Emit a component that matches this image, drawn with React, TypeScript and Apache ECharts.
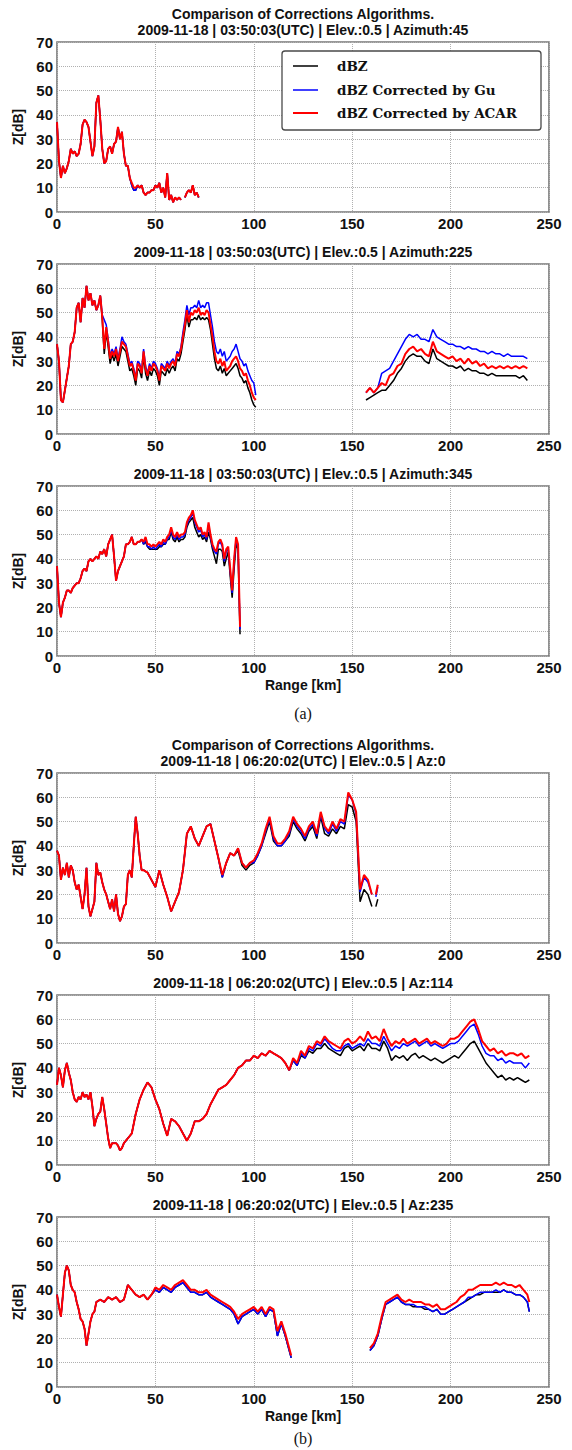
import React, { useEffect, useRef } from "react";
import * as echarts from "echarts";

// ---------------- DATA ----------------
// Panel (a)1: Azimuth 45
const az45Range = [0,1,2,3,4,5,6,7,8,9,10,11,12,13,14,15,16,17,18,19,20,21,22,23,24,25,26,27,28,29,30,31,32,33,34,35,36,37,38,39,40,41,42,43,44,45,46,47,48,49,50,51,52,53,54,55,56,57,58,59,60,61,62,63,64,65,66,67,68,69,70,71,72];
const az45Acar = [37,21,14,19,16,18,21,26,24,25,23,24,28,36,38,37,35,29,23,27,45,48,38,26,20,21,26,27,24,28,29,35,30,33,24,19,19,14,12,10,10,11,10,11,8,7,8,8,9,9,11,10,12,8,10,6,16,5,7,4,6,5,6,5,null,6,8,9,8,11,7,8,6];
const az45Gu = [37,21,14,19,16,18,21,26,24,25,23,24,28,36,38,37,35,29,23,27,45,48,38,26,20,21,26,27,24,28,29,35,30,33,24,19,19,14,11,9,9,11,10,11,8,7,8,8,9,9,11,10,12,8,10,6,16,5,7,4,6,5,6,5,null,6,8,9,8,11,7,8,6];
const az45Dbz = [37,21,14,19,16,18,21,26,24,25,23,24,28,36,38,37,35,29,23,27,45,48,38,26,20,21,26,27,24,28,29,35,30,33,24,19,19,14,11,9,9,11,10,11,8,7,8,8,9,9,11,10,12,8,10,6,16,5,7,4,6,5,6,5,null,6,8,9,8,11,7,8,6];

// Panel (a)2: Azimuth 225
const az225Range = [0,1,2,3,4,5,6,7,8,9,10,11,12,13,14,15,16,17,18,19,20,21,22,23,24,25,26,27,28,29,30,31,32,33,34,35,36,37,38,39,40,41,42,43,44,45,46,47,48,49,50,51,52,53,54,55,56,57,58,59,60,61,62,63,64,65,66,67,68,69,70,71,72,73,74,75,76,77,78,79,80,81,82,83,84,85,86,87,88,89,90,91,92,93,94,95,96,97,98,99,100,101,129,157,159,161,163,165,167,169,171,173,175,177,179,181,183,185,187,189,191,193,195,197,199,201,203,205,207,209,211,213,215,217,219,221,223,225,227,229,231,233,235,237,239];
const az225Acar = [37,30,14,13,18,23,28,37,38,42,52,54,46,56,52,61,55,58,53,55,51,53,57,48,35,44,38,31,34,32,35,30,34,38,37,36,32,28,29,26,22,29,28,25,34,27,24,28,26,29,28,26,22,28,27,26,29,27,29,30,28,33,32,35,40,45,51,46,50,49,51,50,52,49,50,49,51,50,45,40,34,30,29,31,28,30,26,27,28,30,31,32,30,27,26,24,25,22,20,17,15,14,null,17,19,17,19,21,20,24,25,28,29,33,35,36,34,35,33,32,38,34,33,32,31,32,30,31,29,31,29,30,28,29,27,28,27,28,27,28,27,28,27,28,27];
const az225Gu = [37,30,14,13,18,23,28,37,38,42,52,54,46,56,52,61,55,58,53,55,51,53,57,49,47,45,39,32,35,33,36,31,35,40,38,37,33,29,30,27,23,30,29,26,35,28,25,29,27,30,29,27,23,29,28,27,30,28,30,31,29,34,33,36,42,47,53,49,52,52,53,52,55,52,53,52,54,54,49,44,38,34,33,35,32,34,30,31,32,34,35,37,34,31,30,28,29,26,24,22,21,16,null,17,19,17,19,25,26,27,30,33,36,39,41,40,41,39,39,38,43,40,39,38,37,37,36,36,35,36,35,35,34,34,33,34,33,33,32,33,32,32,32,32,31];
const az225Dbz = [37,30,14,13,18,23,28,37,38,42,52,54,46,56,52,61,55,58,53,55,51,53,57,47,33,42,36,29,33,30,33,28,32,36,35,34,30,26,27,24,20,27,26,23,32,25,22,26,24,27,26,24,20,26,25,24,27,25,27,28,26,31,30,33,38,43,49,44,47,47,48,47,49,47,48,47,48,47,43,37,31,27,26,28,25,27,24,25,26,27,28,29,27,24,23,21,22,19,17,14,12,11,null,14,15,16,17,18,18,20,22,25,27,30,32,33,32,32,30,29,35,31,30,29,28,28,27,28,26,27,26,26,25,25,24,25,24,24,24,24,24,24,23,24,22];

// Panel (a)3: Azimuth 345
const az345Range = [0,1,2,3,4,5,6,7,8,9,10,11,12,13,14,15,16,17,18,19,20,21,22,23,24,25,26,27,28,29,30,31,32,33,34,35,36,37,38,39,40,41,42,43,44,45,46,47,48,49,50,51,52,53,54,55,56,57,58,59,60,61,62,63,64,65,66,67,68,69,70,71,72,73,74,75,76,77,78,79,80,81,82,83,84,85,86,87,88,89,90,91,92,93];
const az345Acar = [37,22,16,22,24,27,27,26,28,29,30,30,32,35,36,35,39,40,39,40,41,40,43,42,44,41,46,48,50,41,31,35,37,39,41,46,46,47,49,46,46,47,47,48,47,49,46,46,45,46,45,46,47,46,48,47,49,50,53,50,49,51,49,50,50,51,55,57,58,60,56,54,52,53,50,51,49,55,50,46,44,43,47,48,46,40,44,45,36,27,40,49,46,12];
const az345Gu = [37,22,16,22,24,27,27,26,28,29,30,30,32,35,36,35,39,40,39,40,41,40,43,42,44,41,46,48,50,41,31,35,37,39,41,46,46,47,49,46,46,47,47,48,46,48,45,45,44,45,44,45,46,45,47,46,48,49,52,49,48,50,48,49,49,50,54,56,57,59,55,53,51,52,49,50,48,54,49,45,43,42,46,47,45,39,43,44,35,26,39,48,45,11];
const az345Dbz = [37,22,16,22,24,27,27,26,28,29,30,30,32,35,36,35,39,40,39,40,41,40,43,42,44,41,46,48,50,41,31,35,37,39,41,46,46,47,49,46,46,47,47,48,46,47,45,44,44,44,44,44,45,45,46,46,48,48,51,48,47,49,47,48,48,49,53,55,56,57,53,51,49,50,48,49,47,51,48,44,41,38,44,44,43,37,40,43,33,24,36,46,44,9];

// Panel (b)1: Az 0
const az0Range = [0,1,2,3,4,5,6,7,8,9,10,11,12,13,14,15,16,17,18,19,20,21,22,23,24,25,26,27,28,29,30,31,32,33,34,35,36,37,38,39,40,41,42,43,44,46,48,50,52,54,56,58,60,62,64,66,68,70,72,74,76,78,80,82,84,86,88,90,92,94,96,98,100,102,104,106,108,110,112,114,116,118,120,122,124,126,128,130,132,134,136,138,140,142,144,146,148,150,152,154,156,158,160,161,162,163];
const az0Acar = [38,36,26,31,28,33,27,32,30,25,22,24,19,14,20,31,15,11,14,17,33,28,29,25,22,20,17,14,18,13,20,12,9,11,15,16,28,30,27,40,52,45,36,30,30,29,26,23,30,24,19,13,17,21,30,45,48,43,40,44,48,49,42,35,28,33,37,36,39,33,31,33,34,37,41,47,52,44,41,41,43,46,52,49,47,44,48,50,45,54,48,46,50,47,51,50,62,59,54,22,28,26,20,null,20,24];
const az0Gu = [38,36,26,31,28,33,27,32,30,25,22,24,19,14,20,31,15,11,14,17,33,28,29,25,22,20,17,14,18,13,20,12,9,11,15,16,28,30,27,40,52,45,36,30,30,29,26,23,30,24,19,13,17,21,30,45,48,43,40,44,48,49,42,35,27,33,37,36,39,33,31,33,33,36,40,46,51,43,40,40,42,45,51,48,46,43,47,49,44,53,47,45,49,46,50,49,61,59,53,21,27,25,20,null,19,23];
const az0Dbz = [38,36,26,31,28,33,27,32,30,25,22,24,19,14,20,31,15,11,14,17,33,28,29,25,22,20,17,14,18,13,20,12,9,11,15,16,28,30,27,40,52,45,36,30,30,29,26,23,30,24,19,13,17,21,30,45,48,43,40,44,48,49,42,35,27,33,37,36,38,32,30,32,33,36,40,45,50,42,40,40,42,44,50,47,45,42,46,48,43,52,45,44,47,45,48,47,57,56,50,17,22,20,15,null,15,18];

// Panel (b)2: Az 114
const az114Range = [0,1,2,3,4,5,6,7,8,9,10,11,12,13,14,15,16,17,18,19,20,21,22,23,24,25,26,27,28,29,30,31,32,33,34,35,36,37,38,39,40,42,44,46,48,50,52,54,56,58,60,62,64,66,68,70,72,74,76,78,80,82,84,86,88,90,92,94,96,98,100,102,104,106,108,110,112,114,116,118,120,122,124,126,128,130,132,134,136,138,140,142,144,146,148,150,152,154,156,158,160,162,164,166,168,170,172,174,176,178,180,182,184,186,188,190,192,194,196,198,200,202,204,206,208,210,212,214,216,218,220,222,224,226,228,230,232,234,236,238,240];
const az114Acar = [33,40,37,32,39,42,38,35,30,27,26,28,27,30,28,29,27,30,24,16,19,21,22,28,23,17,11,7,9,9,9,8,6,7,9,10,11,12,13,17,21,27,31,34,32,27,23,17,12,19,18,16,13,10,13,18,18,19,21,25,28,31,32,33,35,37,40,41,43,43,45,44,46,45,47,46,45,44,42,39,44,42,47,45,49,48,51,50,53,51,50,49,48,51,52,50,51,53,51,55,52,53,51,56,52,49,51,50,52,50,51,52,50,51,52,50,51,50,49,50,52,52,53,55,57,59,60,56,51,49,47,48,46,47,45,46,46,45,46,44,45];
const az114Gu = [33,40,37,32,39,42,38,35,30,27,26,28,27,30,28,29,27,30,24,16,19,21,22,28,23,17,11,7,9,9,9,8,6,7,9,10,11,12,13,17,21,27,31,34,32,27,23,17,12,19,18,16,13,10,13,18,18,19,21,25,28,31,32,33,35,37,40,41,43,43,45,44,46,45,47,46,45,44,42,39,43,41,46,44,48,47,50,49,52,50,48,47,47,49,50,48,49,50,49,52,50,50,49,53,50,47,49,48,50,49,50,51,49,50,51,49,50,49,48,49,50,50,51,53,55,57,58,54,49,46,45,45,43,44,42,43,42,42,42,40,42];
const az114Dbz = [33,40,37,32,39,42,38,35,30,27,26,28,27,30,28,29,27,30,24,16,19,21,22,28,23,17,11,7,9,9,9,8,6,7,9,10,11,12,13,17,21,27,31,34,32,27,23,17,12,19,18,16,13,10,13,18,18,19,21,25,28,31,32,33,35,37,40,41,43,43,45,44,46,45,47,46,45,44,42,39,43,41,45,44,47,46,48,48,50,48,47,46,45,48,49,47,48,49,47,50,48,48,47,51,48,43,45,44,45,43,45,46,44,45,44,43,44,43,42,43,44,45,44,46,48,50,51,48,45,42,40,38,36,37,35,36,35,36,35,34,35];

// Panel (b)3: Az 235
const az235Range = [0,1,2,3,4,5,6,7,8,9,10,11,12,13,14,15,16,17,18,19,20,22,24,26,28,30,32,34,36,38,40,42,44,46,48,50,52,54,56,58,60,62,64,66,68,70,72,74,76,78,80,82,84,86,88,90,92,94,96,98,100,102,104,106,108,110,112,114,116,118,119,140,159,161,163,165,167,169,171,173,175,177,179,181,183,185,187,189,191,193,195,197,199,201,203,205,207,209,211,213,215,217,219,221,223,225,227,229,231,233,235,237,239,240];
const az235Acar = [38,33,29,38,47,50,48,42,40,39,35,32,28,27,24,17,22,27,30,31,35,36,35,37,36,37,35,36,42,40,38,37,38,36,38,41,40,42,41,40,42,43,44,42,40,40,39,39,40,38,37,36,35,34,33,31,28,30,31,32,33,31,33,30,33,32,23,27,22,16,13,null,16,18,22,29,35,36,37,38,36,35,36,35,35,35,34,34,33,34,32,32,33,34,35,37,38,40,40,41,42,42,42,42,43,42,43,42,42,41,42,40,38,35];
const az235Gu = [38,33,29,38,47,50,48,42,40,39,35,32,28,27,24,17,22,27,30,31,35,36,35,37,36,37,35,36,42,40,38,37,38,36,38,40,39,41,40,39,41,42,43,41,39,39,38,38,39,37,36,35,34,33,32,30,26,29,30,31,32,30,32,29,32,31,21,26,21,15,12,null,15,17,21,28,34,35,36,37,35,34,34,34,33,33,33,32,31,32,30,30,31,32,33,34,35,37,37,38,39,39,39,39,40,39,40,39,39,38,38,37,35,31];
const az235Dbz = [38,33,29,38,47,50,48,42,40,39,35,32,28,27,24,17,22,27,30,31,35,36,35,37,36,37,35,36,42,40,38,37,38,36,38,40,39,41,40,39,41,42,43,41,39,39,38,38,39,37,36,35,34,33,32,30,26,29,30,31,32,30,32,29,32,31,21,26,21,15,12,null,15,17,21,28,34,35,36,37,35,34,34,33,33,33,32,32,31,32,30,30,31,32,33,34,35,36,37,38,38,39,39,39,39,39,40,39,39,38,38,37,35,31];

const xTicks = [0, 50, 100, 150, 200, 250];
const yTicks = [0, 10, 20, 30, 40, 50, 60, 70];
const seriesNames = ["dBZ", "dBZ Corrected by Gu", "dBZ Corrected by ACAR"];
const seriesColors = ["#000000", "#0000ff", "#ff0000"];

const panelTitles = [
  "Comparison of Corrections Algorithms.\n2009-11-18 | 03:50:03(UTC) | Elev.:0.5 | Azimuth:45",
  "2009-11-18 | 03:50:03(UTC) | Elev.:0.5 | Azimuth:225",
  "2009-11-18 | 03:50:03(UTC) | Elev.:0.5 | Azimuth:345",
  "Comparison of Corrections Algorithms.\n2009-11-18 | 06:20:02(UTC) | Elev.:0.5 | Az:0",
  "2009-11-18 | 06:20:02(UTC) | Elev.:0.5 | Az:114",
  "2009-11-18 | 06:20:02(UTC) | Elev.:0.5 | Az:235",
];

const panelData = [
  { range: az45Range, dbz: az45Dbz, gu: az45Gu, acar: az45Acar },
  { range: az225Range, dbz: az225Dbz, gu: az225Gu, acar: az225Acar },
  { range: az345Range, dbz: az345Dbz, gu: az345Gu, acar: az345Acar },
  { range: az0Range, dbz: az0Dbz, gu: az0Gu, acar: az0Acar },
  { range: az114Range, dbz: az114Dbz, gu: az114Gu, acar: az114Acar },
  { range: az235Range, dbz: az235Dbz, gu: az235Gu, acar: az235Acar },
];

// ---------------- LAYOUT ----------------
const PANEL_TOPS = [42, 264, 486, 773, 995, 1217];
const PANEL_H = 170;
const PLOT_L = 57;
const PLOT_W = 492;
const CX = PLOT_L + PLOT_W / 2;
const SANS = '"Liberation Sans", Arial, Helvetica, sans-serif';
const SERIF = '"DejaVu Serif", "Liberation Serif", serif';

function pairs(xs: number[], ys: (number | null)[]) {
  return xs.map((x, i) => [x, ys[i] === null || ys[i] === undefined ? "-" : ys[i]]);
}

function buildOption() {
  const grid = PANEL_TOPS.map((t) => ({
    left: PLOT_L,
    top: t,
    width: PLOT_W,
    height: PANEL_H,
    show: true,
    borderColor: "#777777",
    borderWidth: 1.6,
    backgroundColor: "transparent",
  }));
  const xAxis = PANEL_TOPS.map((_, i) => ({
    type: "value",
    gridIndex: i,
    min: xTicks[0],
    max: xTicks[xTicks.length - 1],
    interval: xTicks[1] - xTicks[0],
    axisLine: { show: false },
    axisTick: { show: false },
    axisLabel: { fontFamily: SANS, fontWeight: "bold", fontSize: 15, color: "#111", margin: 4 },
    splitLine: { show: true, lineStyle: { type: "dotted", color: "#b0b0b0", width: 1 } },
    name: i === 2 || i === 5 ? "Range [km]" : "",
    nameLocation: "middle",
    nameGap: 22,
    nameTextStyle: { fontFamily: SANS, fontWeight: "bold", fontSize: 14, color: "#111" },
  }));
  const yAxis = PANEL_TOPS.map((_, i) => ({
    type: "value",
    gridIndex: i,
    min: yTicks[0],
    max: yTicks[yTicks.length - 1],
    interval: yTicks[1] - yTicks[0],
    axisLine: { show: false },
    axisTick: { show: false },
    axisLabel: { fontFamily: SANS, fontWeight: "bold", fontSize: 15, color: "#111", margin: 4 },
    splitLine: { show: true, lineStyle: { type: "dotted", color: "#b0b0b0", width: 1 } },
    name: "Z[dB]",
    nameLocation: "middle",
    nameRotate: 90,
    nameGap: 23,
    nameTextStyle: { fontFamily: SANS, fontWeight: "bold", fontSize: 14, color: "#111" },
  }));
  const series: any[] = [];
  panelData.forEach((p, i) => {
    const sets = [p.dbz, p.gu, p.acar];
    sets.forEach((ys, k) => {
      series.push({
        type: "line",
        name: seriesNames[k],
        xAxisIndex: i,
        yAxisIndex: i,
        data: pairs(p.range, ys),
        symbol: "none",
        showSymbol: false,
        connectNulls: false,
        silent: true,
        z: 2 + k,
        lineStyle: { color: seriesColors[k], width: k === 2 ? 2 : 1.5 },
        itemStyle: { color: seriesColors[k] },
      });
    });
  });
  const title = PANEL_TOPS.map((t, i) => {
    const two = panelTitles[i].indexOf("\n") >= 0;
    return {
      text: panelTitles[i],
      left: CX,
      top: two ? t - 36 : t - 20,
      textAlign: "center",
      padding: 0,
      textStyle: { fontFamily: SANS, fontWeight: "bold", fontSize: 14, lineHeight: 16, color: "#111" },
    };
  });
  const LX = 282, LY = 51, LW = 259, LH = 79;
  const rows = [66, 90, 113];
  const graphic: any[] = [
    {
      type: "rect",
      z: 100,
      shape: { x: LX, y: LY, width: LW, height: LH, r: 3 },
      style: { fill: "#ffffff", stroke: "#4a4a4a", lineWidth: 1.3 },
    },
  ];
  seriesNames.forEach((n, k) => {
    graphic.push({
      type: "line",
      z: 101,
      shape: { x1: 293, y1: rows[k], x2: 318, y2: rows[k] },
      style: { stroke: seriesColors[k], lineWidth: k === 2 ? 2 : 1.5 },
    });
    graphic.push({
      type: "text",
      z: 101,
      x: 337,
      y: rows[k],
      style: { text: n, font: `bold 13.5px ${SERIF}`, fill: "#111", verticalAlign: "middle", align: "left" },
    });
  });
  graphic.push({
    type: "text",
    x: CX,
    y: 713,
    style: { text: "(a)", font: `16px "Liberation Serif", serif`, fill: "#111", align: "center", verticalAlign: "middle" },
  });
  graphic.push({
    type: "text",
    x: CX,
    y: 1438,
    style: { text: "(b)", font: `16px "Liberation Serif", serif`, fill: "#111", align: "center", verticalAlign: "middle" },
  });
  return {
    animation: false,
    backgroundColor: "#ffffff",
    title,
    grid,
    xAxis,
    yAxis,
    series,
    graphic,
  };
}

export default function App() {
  const ref = useRef<HTMLDivElement>(null);
  useEffect(() => {
    if (!ref.current) return;
    const chart = echarts.init(ref.current, undefined, { renderer: "svg" });
    chart.setOption(buildOption() as any);
    return () => chart.dispose();
  }, []);
  return (
    <div
      ref={ref}
      style={{ position: "absolute", left: 0, top: 0, width: 572, height: 1450, background: "#fff" }}
    />
  );
}
